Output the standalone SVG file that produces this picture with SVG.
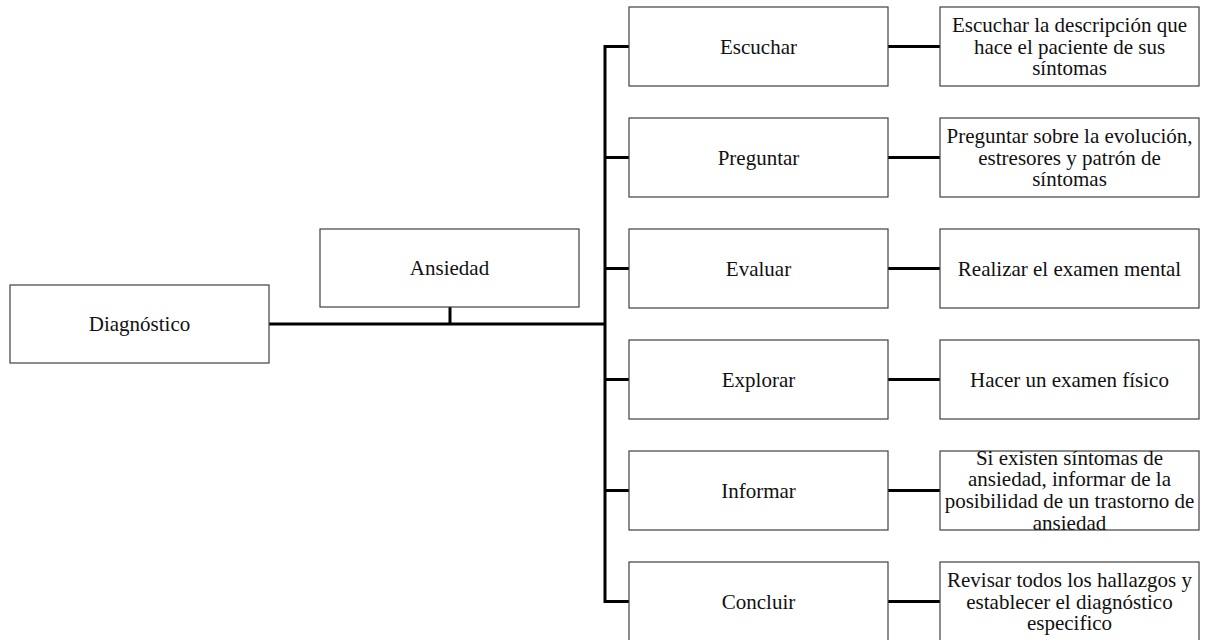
<svg xmlns="http://www.w3.org/2000/svg" width="1206" height="640" viewBox="0 0 1206 640">
<style>
.box{fill:#fff;stroke:#404040;stroke-width:1.2}
.t{font-family:"Liberation Serif","Times New Roman",serif;font-size:21px;fill:#111;text-anchor:middle}
.c{stroke:#000;fill:none;stroke-width:3}
</style>
<rect width="1206" height="640" fill="#fff"/>
<g id="connectors">
<line class="c" x1="269" y1="324" x2="605" y2="324" stroke-width="4"/>
<line class="c" x1="450" y1="307" x2="450" y2="324" stroke-width="2.5"/>
<polyline class="c" points="629,46.5 605,46.5 605,601.5 629,601.5"/>
<line class="c" x1="605" y1="157.5" x2="629" y2="157.5"/>
<line class="c" x1="605" y1="268.5" x2="629" y2="268.5"/>
<line class="c" x1="605" y1="379.5" x2="629" y2="379.5"/>
<line class="c" x1="605" y1="490.5" x2="629" y2="490.5"/>
<line class="c" x1="888" y1="46.5" x2="940" y2="46.5"/>
<line class="c" x1="888" y1="157.5" x2="940" y2="157.5"/>
<line class="c" x1="888" y1="268.5" x2="940" y2="268.5"/>
<line class="c" x1="888" y1="379.5" x2="940" y2="379.5"/>
<line class="c" x1="888" y1="490.5" x2="940" y2="490.5"/>
<line class="c" x1="888" y1="601.5" x2="940" y2="601.5"/>
</g>
<g id="diagnostico"><rect class="box" x="10" y="285" width="259" height="78"/><text class="t" x="139.5" y="331">Diagnóstico</text></g>
<g id="ansiedad"><rect class="box" x="320" y="229" width="259" height="78"/><text class="t" x="449.5" y="275">Ansiedad</text></g>
<g id="escuchar"><rect class="box" x="629" y="7" width="259" height="79"/><text class="t" x="758.5" y="53.5">Escuchar</text></g>
<g id="preguntar"><rect class="box" x="629" y="118" width="259" height="79"/><text class="t" x="758.5" y="164.5">Preguntar</text></g>
<g id="evaluar"><rect class="box" x="629" y="229" width="259" height="79"/><text class="t" x="758.5" y="275.5">Evaluar</text></g>
<g id="explorar"><rect class="box" x="629" y="340" width="259" height="79"/><text class="t" x="758.5" y="386.5">Explorar</text></g>
<g id="informar"><rect class="box" x="629" y="451" width="259" height="79"/><text class="t" x="758.5" y="497.5">Informar</text></g>
<g id="concluir"><rect class="box" x="629" y="562" width="259" height="79"/><text class="t" x="758.5" y="608.5">Concluir</text></g>
<g id="escuchar-d"><rect class="box" x="940" y="7" width="259" height="79"/><text class="t" x="1069.5" y="31.8">Escuchar la descripción que</text><text class="t" x="1069.5" y="53.5">hace el paciente de sus</text><text class="t" x="1069.5" y="75.2">síntomas</text></g>
<g id="preguntar-d"><rect class="box" x="940" y="118" width="259" height="79"/><text class="t" x="1069.5" y="142.8">Preguntar sobre la evolución,</text><text class="t" x="1069.5" y="164.5">estresores y patrón de</text><text class="t" x="1069.5" y="186.2">síntomas</text></g>
<g id="evaluar-d"><rect class="box" x="940" y="229" width="259" height="79"/><text class="t" x="1069.5" y="275.5">Realizar el examen mental</text></g>
<g id="explorar-d"><rect class="box" x="940" y="340" width="259" height="79"/><text class="t" x="1069.5" y="386.5">Hacer un examen físico</text></g>
<g id="informar-d"><rect class="box" x="940" y="451" width="259" height="79"/><text class="t" x="1069.5" y="464.5">Si existen síntomas de</text><text class="t" x="1069.5" y="486.2">ansiedad, informar de la</text><text class="t" x="1069.5" y="507.9">posibilidad de un trastorno de</text><text class="t" x="1069.5" y="529.6">ansiedad</text></g>
<g id="concluir-d"><rect class="box" x="940" y="562" width="259" height="79"/><text class="t" x="1069.5" y="586.8">Revisar todos los hallazgos y</text><text class="t" x="1069.5" y="608.5">establecer el diagnóstico</text><text class="t" x="1069.5" y="630.2">especifico</text></g>
</svg>
